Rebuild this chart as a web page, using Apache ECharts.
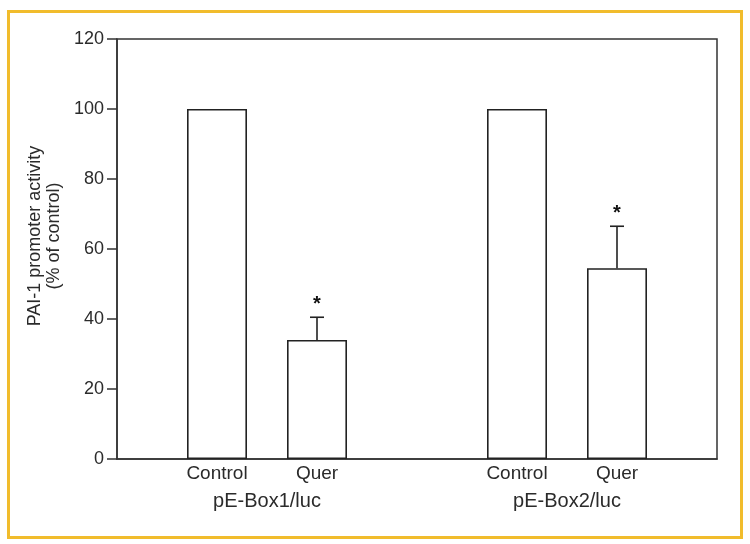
<!DOCTYPE html>
<html>
<head>
<meta charset="utf-8">
<script src="https://cdn.jsdelivr.net/npm/echarts@6/dist/echarts.min.js"></script>
<style>html,body{margin:0;padding:0;background:#fff;}#c{width:750px;height:544px;}</style>
</head>
<body>
<div id="c"></div>
<script>
const categories = ['', 'Control', 'Quer', '', 'Control', 'Quer', ''];
const groups = ['pE-Box1/luc', 'pE-Box2/luc'];
const means = [null, 100, 34, null, 100, 54.5, null];
const errors = [null, 0, 6.5, null, 0, 12, null];
const marks = ['', '', '*', '', '', '*', ''];
const yTicks = [0, 20, 40, 60, 80, 100, 120];

const FONT = 'Liberation Sans, Arial, sans-serif';
const INK = '#2b2b2b';

const errData = [];
means.forEach((m, i) => {
  if (m !== null && errors[i] > 0) errData.push([i, m, m + errors[i], marks[i]]);
});

const chart = echarts.init(document.getElementById('c'));
chart.setOption({
  animation: false,
  backgroundColor: '#ffffff',
  graphic: [{
    type: 'rect', left: 6, top: 9, z: 100,
    shape: { width: 733, height: 526 },
    style: { fill: 'none', stroke: '#F1BC2C', lineWidth: 3 }
  }],
  grid: {
    left: 117, top: 39, width: 600, height: 420,
    show: true, borderColor: '#333', borderWidth: 1.5, backgroundColor: 'transparent'
  },
  xAxis: [{
    type: 'category', data: categories, boundaryGap: false,
    axisLine: { lineStyle: { color: '#333', width: 1.5 } },
    axisTick: { show: false },
    axisLabel: { color: INK, fontSize: 19, fontFamily: FONT, margin: 5, interval: 0 },
    splitLine: { show: false }
  }, {
    type: 'category', data: groups, boundaryGap: true, position: 'bottom', offset: 32,
    axisLine: { show: false }, axisTick: { show: false },
    axisLabel: { color: INK, fontSize: 20, fontFamily: FONT, margin: 0, interval: 0 },
    splitLine: { show: false }
  }],
  yAxis: {
    type: 'value', min: 0, max: 120, interval: 20,
    name: 'PAI-1 promoter activity\n(% of control)',
    nameLocation: 'middle', nameGap: 48,
    nameTextStyle: { color: INK, fontSize: 18, fontFamily: FONT, lineHeight: 19, padding: [0, 0, 0, 26] },
    axisLine: { show: true, lineStyle: { color: '#333', width: 1.5 } },
    axisTick: { show: true, length: 10, lineStyle: { color: '#333', width: 1.5 } },
    axisLabel: { color: INK, fontSize: 18, fontFamily: FONT, margin: 13,
      formatter: v => yTicks.includes(v) ? String(v) : '' },
    splitLine: { show: false }
  },
  series: [{
    type: 'bar', xAxisIndex: 0, data: means, barWidth: 60,
    itemStyle: { color: '#ffffff', borderColor: '#222', borderWidth: 1.6 }
  }, {
    type: 'custom', xAxisIndex: 0, data: errData, z: 5,
    renderItem: function (params, api) {
      const x = api.value(0);
      const base = api.coord([x, api.value(1)]);
      const top = api.coord([x, api.value(2)]);
      const half = 7;
      return {
        type: 'group',
        children: [{
          type: 'line', shape: { x1: base[0], y1: base[1], x2: top[0], y2: top[1] },
          style: { stroke: '#222', lineWidth: 1.6 }
        }, {
          type: 'line', shape: { x1: top[0] - half, y1: top[1], x2: top[0] + half, y2: top[1] },
          style: { stroke: '#222', lineWidth: 1.6 }
        }, {
          type: 'text', x: top[0], y: top[1] - 3,
          style: { text: api.value(3), fill: '#111', font: 'bold 20px ' + FONT,
            align: 'center', verticalAlign: 'bottom' }
        }]
      };
    }
  }]
});
</script>
</body>
</html>
